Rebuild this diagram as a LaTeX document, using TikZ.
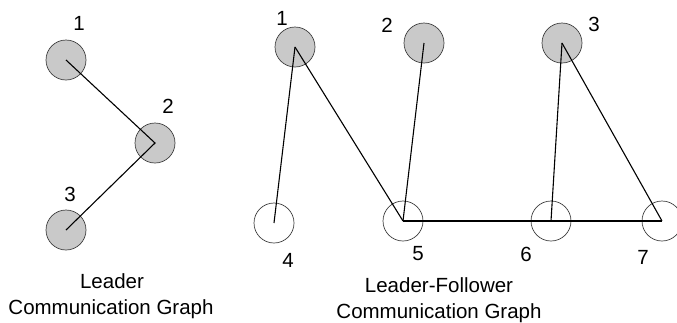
\documentclass[tikz,border=0pt]{standalone}
\usepackage{fontspec}
\setmainfont{Liberation Sans}
\begin{document}
\begin{tikzpicture}[x=1pt,y=-1pt,
  agent/.style={circle,draw=black!75,line width=0.7pt,minimum size=40pt,inner sep=0pt},
  leader/.style={agent,fill=black!21},
  follower/.style={agent,fill=white},
  link/.style={draw=black,line width=1.1pt},
  num/.style={inner sep=0pt,font=\fontsize{20.5}{24}\selectfont},
  caption/.style={inner sep=0pt,anchor=base,font=\fontsize{20.5}{24}\selectfont}]
\useasboundingbox (0,0) rectangle (677,322);
\clip (0,0) rectangle (677,322);

% leader graph
\node[leader] (a1) at (66,60) {};
\node[leader] (a2) at (155,143) {};
\node[leader] (a3) at (66,230) {};
\draw[link] (a1.center) -- (a2.center) -- (a3.center);
\node[num] (na1) at (79,23) {1};
\node[num] (na2) at (168,106) {2};
\node[num] (na3) at (70,194) {3};
\node[caption] (ca1) at (112,288) {Leader};
\node[caption] (ca2) at (111,314) {Communication Graph};

% leader-follower graph
\node[leader] (b1) at (295,47) {};
\node[leader] (b2) at (424,43) {};
\node[leader] (b3) at (562,43) {};
\node[follower] (b4) at (274,223) {};
\node[follower] (b5) at (403,221) {};
\node[follower] (b6) at (551,221) {};
\node[follower] (b7) at (662,221) {};
\draw[link] (b1.center) -- (b4.center);
\draw[link] (b1.center) -- (b5.center);
\draw[link] (b2.center) -- (b5.center);
\draw[link] (b5.center) -- (b6.center) -- (b7.center);
\draw[link] (b3.center) -- (b6.center);
\draw[link] (b3.center) -- (b7.center);
\node[num] (nb1) at (282,18) {1};
\node[num] (nb2) at (387,25) {2};
\node[num] (nb3) at (594,24) {3};
\node[num] (nb4) at (288,260) {4};
\node[num] (nb5) at (418,254) {5};
\node[num] (nb6) at (526,254) {6};
\node[num] (nb7) at (643,257) {7};
\node[caption] (cb1) at (439,292) {Leader-Follower};
\node[caption] (cb2) at (439,318) {Communication Graph};
\end{tikzpicture}
\end{document}
